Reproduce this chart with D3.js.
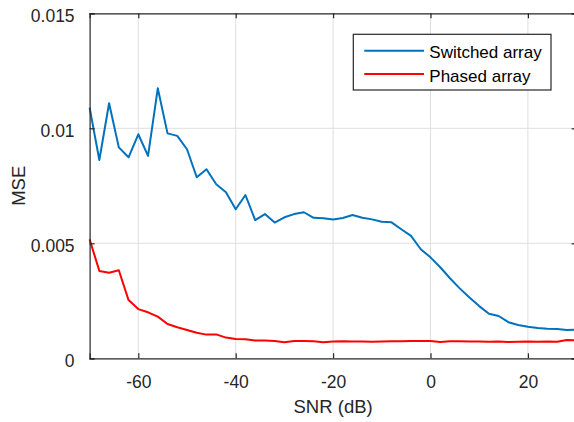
<!DOCTYPE html>
<html><head><meta charset="utf-8">
<script src="https://cdn.jsdelivr.net/npm/d3@7"></script>
<style>
html,body{margin:0;padding:0;background:#fff;overflow:hidden}
svg{display:block;font-family:"Liberation Sans",Arial,Helvetica,sans-serif}
</style></head>
<body><svg id="c" width="574" height="422"></svg>
<script>
const snr = d3.range(-70, 31, 2);
const switchedArray = [0.01090,0.00862,0.01109,0.00917,0.00874,0.00974,0.00880,0.01174,0.00978,0.00967,
0.00909,0.00787,0.00822,0.00757,0.00722,0.00648,0.00710,0.00601,0.00627,0.00590,
0.00613,0.00627,0.00635,0.00611,0.00609,0.00603,0.00610,0.00623,0.00611,0.00604,
0.00594,0.00591,0.00561,0.00532,0.00474,0.00439,0.00396,0.00348,0.00304,0.00264,
0.00227,0.00194,0.00184,0.00157,0.00145,0.00137,0.00132,0.00129,0.00127,0.00123,0.00124];
const phasedArray = [0.00517,0.00380,0.00372,0.00383,0.00253,0.00214,0.00200,0.00181,0.00149,0.00135,
0.00123,0.00111,0.00103,0.00104,0.00090,0.00084,0.00083,0.00077,0.00077,0.00075,
0.00070,0.00075,0.00075,0.00074,0.00070,0.00073,0.00074,0.00073,0.00073,0.00072,
0.00073,0.00074,0.00074,0.00075,0.00075,0.00075,0.00071,0.00074,0.00074,0.00073,
0.00073,0.00072,0.00073,0.00071,0.00072,0.00073,0.00072,0.00073,0.00072,0.00080,0.00078];
const xTicks = [-60,-40,-20,0,20];
const xTickLabels = ["-60","-40","-20","0","20"];
const yTicks = [0,0.005,0.01,0.015];
const yTickLabels = ["0","0.005","0.01","0.015"];
const seriesNames = ["Switched array","Phased array"];
const seriesColors = ["#0072BD","#FF0000"];

const svg = d3.select("#c");
svg.append("rect").attr("width",574).attr("height",422).attr("fill","#fff");
const L=89.6, T=13.3, W=487, H=345;
const x = d3.scaleLinear().domain([-70,30]).range([L,L+W]);
const y = d3.scaleLinear().domain([0,0.015]).range([T+H,T]);
const axisCol="#262626";

// grid
const g = svg.append("g");
g.selectAll(".gx").data(xTicks).join("line")
 .attr("x1",d=>x(d)).attr("x2",d=>x(d)).attr("y1",T).attr("y2",T+H)
 .attr("stroke","#dfdfdf").attr("stroke-width",1);
g.selectAll(".gy").data(yTicks.slice(1,-1)).join("line")
 .attr("y1",d=>y(d)).attr("y2",d=>y(d)).attr("x1",L).attr("x2",L+W)
 .attr("stroke","#dfdfdf").attr("stroke-width",1);

// lines
const line = d3.line().x((d,i)=>x(snr[i])).y(d=>y(d));
[switchedArray, phasedArray].forEach((s,k)=>{
  svg.append("path").datum(s).attr("d",line).attr("fill","none")
   .attr("stroke",seriesColors[k]).attr("stroke-width",2).attr("stroke-linejoin","round");
});

// axes
const fs=17.5;
const xa = svg.append("g").attr("transform",`translate(0,${T+H})`)
  .call(d3.axisBottom(x).tickValues(xTicks).tickSize(-5).tickPadding(17).tickFormat((d,i)=>xTickLabels[i]));
const xt = svg.append("g").attr("transform",`translate(0,${T})`)
  .call(d3.axisTop(x).tickValues(xTicks).tickSize(-5).tickFormat(""));
const ya = svg.append("g").attr("transform",`translate(${L},0)`)
  .call(d3.axisLeft(y).tickValues(yTicks).tickSize(-5).tickPadding(15).tickFormat((d,i)=>yTickLabels[i]));
ya.selectAll("text").attr("dy","0.46em");
const yr = svg.append("g").attr("transform",`translate(${L+W},0)`)
  .call(d3.axisRight(y).tickValues(yTicks).tickSize(-5).tickFormat(""));
[xa,xt,ya,yr].forEach(a=>{
  a.select(".domain").attr("stroke",axisCol).attr("stroke-width",1.2);
  a.selectAll(".tick line").attr("stroke",axisCol).attr("stroke-width",1.2);
  a.selectAll("text").attr("fill",axisCol).attr("font-size",fs).attr("font-family","Liberation Sans, Arial, sans-serif");
});

// labels
svg.append("text").attr("x",(x(-70)+x(30))/2).attr("y",412.5)
  .attr("text-anchor","middle").attr("font-size",18.5).attr("fill",axisCol).text("SNR (dB)");
svg.append("text").attr("transform",`translate(25,${y(0.0075)}) rotate(-90)`)
  .attr("text-anchor","middle").attr("font-size",18.5).attr("fill",axisCol).text("MSE");

// legend
const lg = svg.append("g");
lg.append("rect").attr("x",353.3).attr("y",34.3).attr("width",197.7).attr("height",55.7)
  .attr("fill","#fff").attr("stroke",axisCol).attr("stroke-width",1.2);
seriesNames.forEach((n,i)=>{
  const yy = 50.7 + i*23.3;
  lg.append("line").attr("x1",364.3).attr("x2",424).attr("y1",yy).attr("y2",yy)
    .attr("stroke",seriesColors[i]).attr("stroke-width",2);
  lg.append("text").attr("x",429.3).attr("y",yy+7.6).attr("font-size",17).attr("fill","#000").text(n);
});
</script></body></html>
